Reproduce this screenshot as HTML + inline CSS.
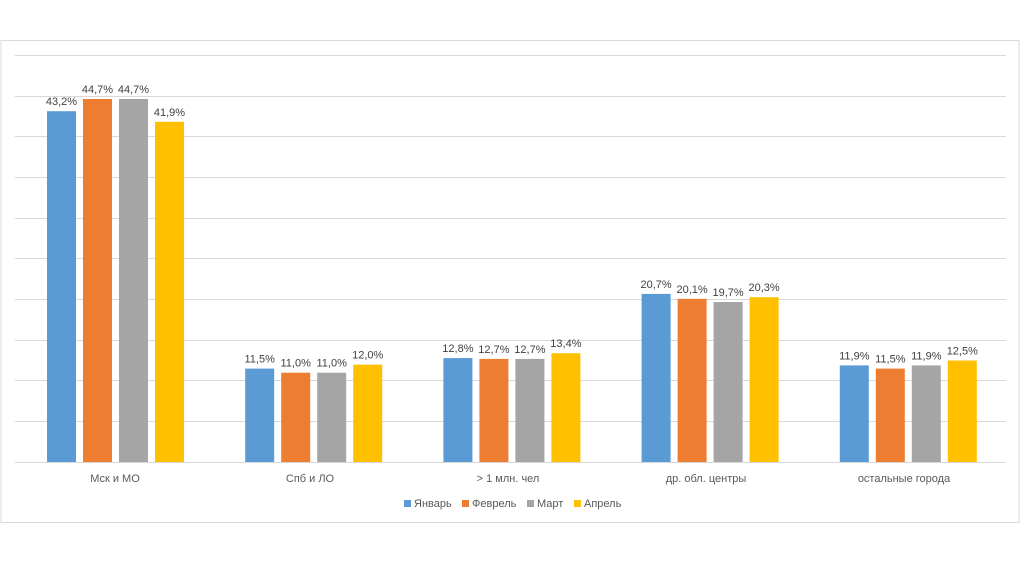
<!DOCTYPE html>
<html><head><meta charset="utf-8"><style>
html,body{margin:0;padding:0;background:#fff;}
svg{display:block;font-family:"Liberation Sans","DejaVu Sans",sans-serif;}
</style></head><body>
<svg width="1020" height="564" viewBox="0 0 1020 564" xmlns="http://www.w3.org/2000/svg">
<rect x="1" y="40.5" width="1018" height="482" fill="#fff" stroke="#d9d9d9" stroke-width="1"/>
<g stroke="#d9d9d9" stroke-width="1">
<line x1="15" x2="1006" y1="55.5" y2="55.5"/>
<line x1="15" x2="1006" y1="96.5" y2="96.5"/>
<line x1="15" x2="1006" y1="136.5" y2="136.5"/>
<line x1="15" x2="1006" y1="177.5" y2="177.5"/>
<line x1="15" x2="1006" y1="218.5" y2="218.5"/>
<line x1="15" x2="1006" y1="258.5" y2="258.5"/>
<line x1="15" x2="1006" y1="299.5" y2="299.5"/>
<line x1="15" x2="1006" y1="340.5" y2="340.5"/>
<line x1="15" x2="1006" y1="380.5" y2="380.5"/>
<line x1="15" x2="1006" y1="421.5" y2="421.5"/>
<line x1="15" x2="1006" y1="462.5" y2="462.5"/>
</g>
<g>
<rect x="47" y="111.2" width="29" height="350.8" fill="#5b9bd5"/>
<rect x="83" y="99" width="29" height="363" fill="#ed7d31"/>
<rect x="119" y="99" width="29" height="363" fill="#a5a5a5"/>
<rect x="155" y="121.8" width="29" height="340.2" fill="#ffc000"/>
<rect x="245.2" y="368.6" width="29" height="93.4" fill="#5b9bd5"/>
<rect x="281.2" y="372.7" width="29" height="89.3" fill="#ed7d31"/>
<rect x="317.2" y="372.7" width="29" height="89.3" fill="#a5a5a5"/>
<rect x="353.2" y="364.6" width="29" height="97.4" fill="#ffc000"/>
<rect x="443.4" y="358.1" width="29" height="103.9" fill="#5b9bd5"/>
<rect x="479.4" y="358.9" width="29" height="103.1" fill="#ed7d31"/>
<rect x="515.4" y="358.9" width="29" height="103.1" fill="#a5a5a5"/>
<rect x="551.4" y="353.2" width="29" height="108.8" fill="#ffc000"/>
<rect x="641.6" y="293.9" width="29" height="168.1" fill="#5b9bd5"/>
<rect x="677.6" y="298.8" width="29" height="163.2" fill="#ed7d31"/>
<rect x="713.6" y="302" width="29" height="160" fill="#a5a5a5"/>
<rect x="749.6" y="297.2" width="29" height="164.8" fill="#ffc000"/>
<rect x="839.8" y="365.4" width="29" height="96.6" fill="#5b9bd5"/>
<rect x="875.8" y="368.6" width="29" height="93.4" fill="#ed7d31"/>
<rect x="911.8" y="365.4" width="29" height="96.6" fill="#a5a5a5"/>
<rect x="947.8" y="360.5" width="29" height="101.5" fill="#ffc000"/>
</g>
<g font-size="11" fill="#404040" text-anchor="middle">
<text x="61.5" y="105.2">43,2%</text>
<text x="97.5" y="93">44,7%</text>
<text x="133.5" y="93">44,7%</text>
<text x="169.5" y="115.8">41,9%</text>
<text x="259.7" y="362.6">11,5%</text>
<text x="295.7" y="366.7">11,0%</text>
<text x="331.7" y="366.7">11,0%</text>
<text x="367.7" y="358.6">12,0%</text>
<text x="457.9" y="352.1">12,8%</text>
<text x="493.9" y="352.9">12,7%</text>
<text x="529.9" y="352.9">12,7%</text>
<text x="565.9" y="347.2">13,4%</text>
<text x="656.1" y="287.9">20,7%</text>
<text x="692.1" y="292.8">20,1%</text>
<text x="728.1" y="296">19,7%</text>
<text x="764.1" y="291.2">20,3%</text>
<text x="854.3" y="359.4">11,9%</text>
<text x="890.3" y="362.6">11,5%</text>
<text x="926.3" y="359.4">11,9%</text>
<text x="962.3" y="354.5">12,5%</text>
</g>
<g font-size="11" fill="#595959" text-anchor="middle">
<text x="115" y="482">Мск и МО</text>
<text x="310" y="482">Спб и ЛО</text>
<text x="508" y="482">&gt; 1 млн. чел</text>
<text x="706" y="482">др. обл. центры</text>
<text x="904" y="482">остальные города</text>
</g>
<g font-size="11" fill="#595959">
<rect x="404" y="500" width="7" height="7" fill="#5b9bd5"/><text x="414" y="507">Январь</text>
<rect x="462" y="500" width="7" height="7" fill="#ed7d31"/><text x="472" y="507">Феврель</text>
<rect x="527" y="500" width="7" height="7" fill="#a5a5a5"/><text x="537" y="507">Март</text>
<rect x="574" y="500" width="7" height="7" fill="#ffc000"/><text x="584" y="507">Апрель</text>
</g>
</svg>
</body></html>
